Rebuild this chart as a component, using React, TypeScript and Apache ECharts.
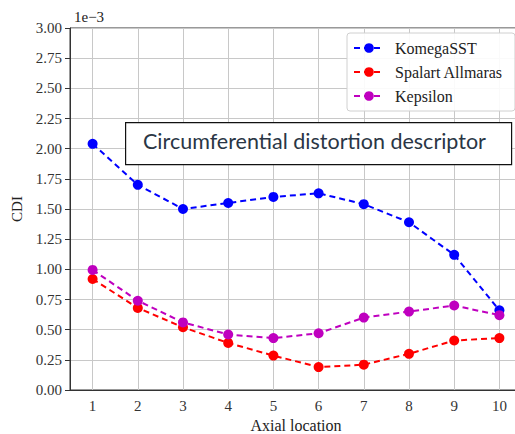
import React, { useEffect, useRef } from "react";
import * as echarts from "echarts";

const categories = ["1", "2", "3", "4", "5", "6", "7", "8", "9", "10"];
const komegaSST = [2.04, 1.70, 1.50, 1.55, 1.60, 1.63, 1.54, 1.39, 1.12, 0.66];
const spalartAllmaras = [0.92, 0.68, 0.52, 0.39, 0.285, 0.19, 0.21, 0.30, 0.41, 0.43];
const kepsilon = [0.995, 0.74, 0.56, 0.46, 0.43, 0.47, 0.60, 0.65, 0.70, 0.62];
const seriesNames = ["KomegaSST", "Spalart Allmaras", "Kepsilon"];
const seriesColors = ["#0000ff", "#ff0000", "#bf00bf"];
const titleText = "Circumferential distortion descriptor";
const exponentText = "1e\u22123";

const SERIF = "Liberation Serif";

export default function App() {
  const ref = useRef<HTMLDivElement>(null);
  useEffect(() => {
    if (!ref.current) return;
    const chart = echarts.init(ref.current, null, { renderer: "svg" });
    const values = [komegaSST, spalartAllmaras, kepsilon];
    chart.setOption({
      animation: false,
      backgroundColor: "#ffffff",
      textStyle: { fontFamily: SERIF },
      grid: {
        left: 70,
        top: 28,
        bottom: 44,
        right: 8,
        containLabel: false,
        outerBoundsMode: "none",
        show: true,
        borderColor: "#333333",
        borderWidth: 1,
      },
      legend: {
        orient: "vertical",
        left: 347,
        top: 33,
        z: 50,
        padding: [7, 12, 7, 6],
        itemGap: 8,
        itemWidth: 30,
        itemHeight: 12,
        backgroundColor: "rgba(255,255,255,0.9)",
        borderColor: "#d0d0d0",
        borderWidth: 1,
        borderRadius: 3,
        textStyle: { fontFamily: SERIF, fontSize: 16, color: "#222", padding: [0, 0, 0, 6] },
        data: seriesNames,
      },
      xAxis: {
        type: "category",
        data: categories,
        boundaryGap: true,
        name: "Axial location",
        nameLocation: "middle",
        nameGap: 23,
        nameTextStyle: { fontFamily: SERIF, fontSize: 16, color: "#222", lineHeight: 16 },
        axisLine: { lineStyle: { color: "#333", width: 1 } },
        axisTick: { alignWithLabel: true, inside: false, length: 5, lineStyle: { color: "#333" } },
        axisLabel: { fontFamily: SERIF, fontSize: 15, color: "#333", margin: 8 },
        splitLine: { show: true, alignWithLabel: true, lineStyle: { color: "#c8c8c8", width: 1 } },
      },
      yAxis: {
        type: "value",
        min: 0,
        max: 3,
        interval: 0.25,
        name: "CDI",
        nameLocation: "middle",
        nameGap: 41,
        nameRotate: 90,
        nameTextStyle: { fontFamily: SERIF, fontSize: 15, color: "#222" },
        axisLine: { show: true, lineStyle: { color: "#333", width: 1 } },
        axisTick: { show: true, inside: false, length: 5, lineStyle: { color: "#333" } },
        axisLabel: {
          fontFamily: SERIF,
          fontSize: 15,
          color: "#333",
          margin: 8,
          formatter: (v: number) => v.toFixed(2),
        },
        splitLine: { show: true, lineStyle: { color: "#c8c8c8", width: 1 } },
      },
      graphic: [
        {
          type: "text",
          left: 74,
          top: 9,
          z: 100,
          style: { text: exponentText, fontFamily: SERIF, fontSize: 15, fill: "#222" },
        },
        {
          type: "rect",
          left: 125,
          top: 122,
          z: 100,
          shape: { x: 0, y: 0, width: 386, height: 42 },
          style: { fill: "#ffffff", stroke: "#111", lineWidth: 1.2 },
        },
        {
          type: "text",
          left: 143,
          top: 130,
          z: 101,
          style: {
            text: titleText,
            fontFamily: "Lato",
            fontSize: 21.5,
            fill: "#2a3645",
          },
        },
      ],
      series: seriesNames.map((name, i) => ({
        name,
        type: "line",
        data: values[i],
        symbol: "circle",
        symbolSize: 10,
        color: seriesColors[i],
        lineStyle: { color: seriesColors[i], width: 2, type: [6, 4] },
        itemStyle: { color: seriesColors[i] },
      })),
    });
    return () => chart.dispose();
  }, []);
  return (
    <div
      style={{
        position: "fixed",
        left: 0,
        top: 0,
        width: 515,
        height: 434,
        overflow: "hidden",
        background: "#fff",
      }}
    >
      <div ref={ref} style={{ width: 530, height: 434 }} />
    </div>
  );
}
